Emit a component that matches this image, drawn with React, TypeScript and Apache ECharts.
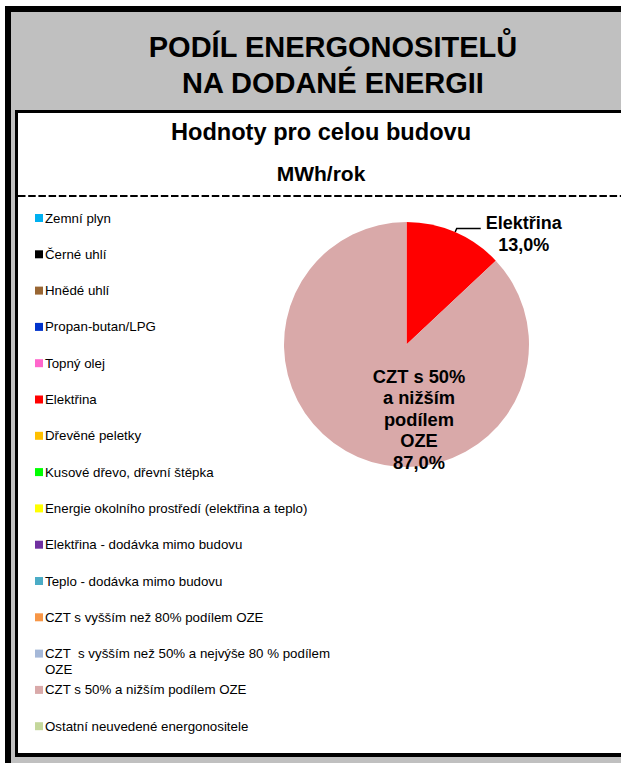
import React, { useEffect, useRef } from 'react';
import * as echarts from 'echarts';

const categories = [
  'Zemní plyn',
  'Černé uhlí',
  'Hnědé uhlí',
  'Propan-butan/LPG',
  'Topný olej',
  'Elektřina',
  'Dřevěné peletky',
  'Kusové dřevo, dřevní štěpka',
  'Energie okolního prostředí (elektřina a teplo)',
  'Elektřina - dodávka mimo budovu',
  'Teplo - dodávka mimo budovu',
  'CZT s vyšším než 80% podílem OZE',
  'CZT  s vyšším než 50% a nejvýše 80 % podílem OZE',
  'CZT s 50% a nižším podílem OZE',
  'Ostatní neuvedené energonositele',
];

// MWh/rok (share: 13,0 % / 87,0 %)
const values = [0, 0, 0, 0, 0, 13.0, 0, 0, 0, 0, 0, 0, 0, 87.0, 0];

const colors = [
  '#00b0f0', '#000000', '#996633', '#0033cc', '#ff66cc', '#ff0000', '#ffc000', '#00ff00',
  '#ffff00', '#7030a0', '#4bacc6', '#f79646', '#a5b8d8', '#d9a9a9', '#c4d79b',
];

// legend text of the one wrapped entry (index 12)
const wrappedLegendLines = ['CZT  s vyšším než 50% a nejvýše 80 % podílem', 'OZE'];
// label lines of the large slice
const cztLabelLines = ['CZT s 50%', 'a nižším', 'podílem', 'OZE'];

const titleText = 'PODÍL ENERGONOSITELŮ\nNA DODANÉ ENERGII';
const subtitleText = 'Hodnoty pro celou budovu';
const unitText = 'MWh/rok';

const FONT = "'Liberation Sans', Arial, Helvetica, sans-serif";

export default function App() {
  const ref = useRef<HTMLDivElement>(null);

  useEffect(() => {
    document.body.style.margin = '0';
    if (!ref.current) return;
    const chart = echarts.init(ref.current, null, { renderer: 'svg' });

    const fmtPct = (p: number) => p.toFixed(1).replace('.', ',');

    const legendTop0 = 218;
    const legendStep = 36.3;
    const legends = categories.map((name, i) => {
      const wrapped = i === 12;
      const yc = legendTop0 + i * legendStep;
      return {
        data: [name],
        orient: 'vertical',
        left: 35,
        top: wrapped ? yc - 24 : yc - 8,
        padding: 0,
        itemWidth: 8,
        itemHeight: 8,
        icon: 'rect',
        selectedMode: false,
        formatter: wrapped ? () => '\u00a0\n' + wrappedLegendLines.join('\n') : undefined,
        textStyle: {
          color: '#000',
          fontFamily: FONT,
          fontSize: 13.3,
          lineHeight: 16,
          padding: [0, 0, 0, -3],
        },
      };
    });

    const data = categories.map((name, i) => {
      const item: any = {
        name,
        value: values[i],
        itemStyle: { color: colors[i] },
      };
      if (i === 5) {
        item.label = {
          show: true,
          position: 'outside',
          padding: [12, 0, 0, 0],
          formatter: (p: any) => `{c|${p.name}}\n{c|${fmtPct(p.percent)}%}`,
          rich: {
            c: {
              align: 'center',
              fontFamily: FONT,
              fontSize: 18,
              fontWeight: 'bold',
              lineHeight: 22,
              color: '#000',
            },
          },
        };
        item.labelLine = { show: true, length: 4, length2: 24, lineStyle: { color: '#000', width: 1.5 } };
      } else if (i === 13) {
        item.label = {
          show: true,
          position: 'inside',
          formatter: (p: any) => `${cztLabelLines.join('\n')}\n${fmtPct(p.percent)}%`,
          align: 'center',
          fontFamily: FONT,
          fontSize: 18.3,
          fontWeight: 'bold',
          lineHeight: 21.5,
          color: '#000',
        };
      } else {
        item.label = { show: false };
        item.labelLine = { show: false };
      }
      return item;
    });

    chart.setOption({
      animation: false,
      legend: legends,
      graphic: [
        { type: 'rect', z: 0, shape: { x: 5, y: 6, width: 700, height: 800 }, style: { fill: '#000' } },
        { type: 'rect', z: 0, shape: { x: 11, y: 12, width: 700, height: 800 }, style: { fill: '#c0c0c0' } },
        { type: 'rect', z: 0, shape: { x: 15, y: 110, width: 700, height: 647 }, style: { fill: '#000' } },
        { type: 'rect', z: 0, shape: { x: 18, y: 113, width: 700, height: 640 }, style: { fill: '#fff' } },
        {
          type: 'line',
          z: 1,
          shape: { x1: 18, y1: 196, x2: 640, y2: 196 },
          style: { stroke: '#000', lineWidth: 2, lineDash: [7.5, 2.7] },
        },
        {
          type: 'text',
          z: 1,
          x: 333,
          y: 65,
          style: {
            text: titleText,
            fill: '#000',
            font: `bold 29px ${FONT}`,
            lineHeight: 36,
            align: 'center',
            verticalAlign: 'middle',
          },
        },
        {
          type: 'text',
          z: 1,
          x: 321,
          y: 132,
          style: {
            text: subtitleText,
            fill: '#000',
            font: `bold 23.6px ${FONT}`,
            align: 'center',
            verticalAlign: 'middle',
          },
        },
        {
          type: 'text',
          z: 1,
          x: 321,
          y: 173,
          style: {
            text: unitText,
            fill: '#000',
            font: `bold 21px ${FONT}`,
            align: 'center',
            verticalAlign: 'middle',
          },
        },
      ],
      series: [
        {
          type: 'pie',
          center: [406.5, 344.5],
          radius: 122.5,
          startAngle: 90,
          clockwise: true,
          percentPrecision: 1,
          minShowLabelAngle: 1,
          avoidLabelOverlap: false,
          emphasis: { disabled: true },
          itemStyle: { borderWidth: 0 },
          labelLayout: (params: any) =>
            params.dataIndex === 13 ? { dx: 38, dy: 16 } : {},
          data,
        },
      ],
    });

    return () => chart.dispose();
  }, []);

  return <div ref={ref} style={{ width: 621, height: 763 }} />;
}
